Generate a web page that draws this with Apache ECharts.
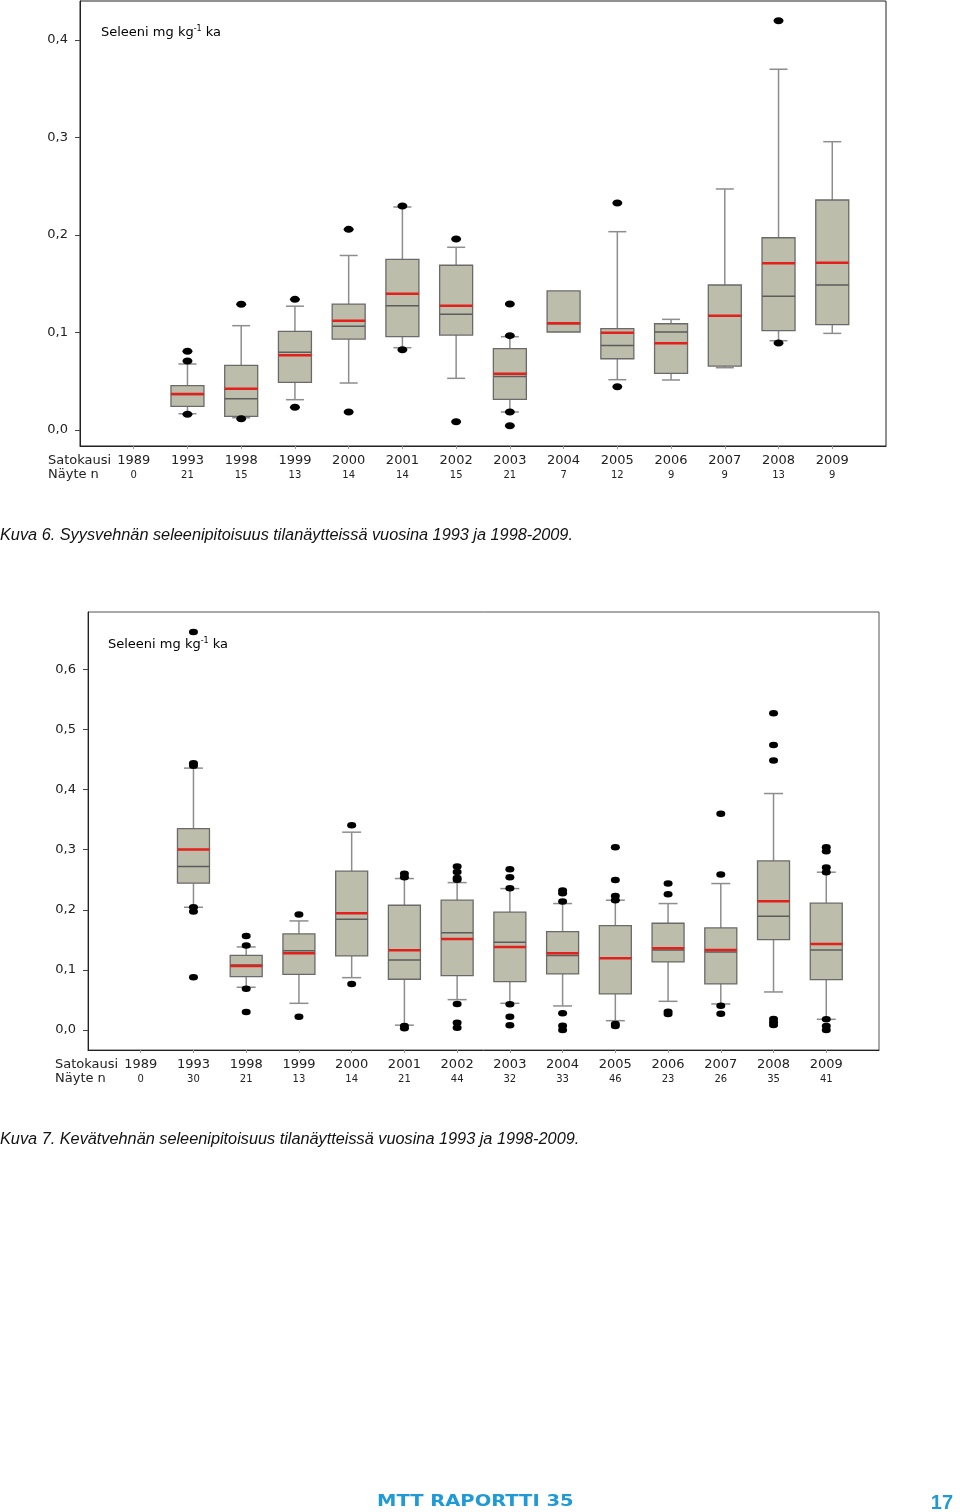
<!DOCTYPE html>
<html><head><meta charset="utf-8">
<script src="https://cdn.jsdelivr.net/npm/echarts@6/dist/echarts.min.js"></script>
<style>html,body{margin:0;padding:0;background:#fff}#c{width:960px;height:1512px}</style>
</head><body><div id="c"></div>
<script>
// ---------- data ----------
const years = ['1989','1993','1998','1999','2000','2001','2002','2003','2004','2005','2006','2007','2008','2009'];
const n1 = [0,21,15,13,14,14,15,21,7,12,9,9,13,9];
const n2 = [0,30,21,13,14,21,44,32,33,46,23,26,35,41];
const yTicks1 = [0, 0.1, 0.2, 0.3, 0.4];
const yTicks2 = [0, 0.1, 0.2, 0.3, 0.4, 0.5, 0.6];

// Kuva 6: [low whisker, Q1, median, Q3, high whisker]
const box1 = [
  null,
  [0.0167, 0.0243, 0.0365, 0.0455, 0.0677],
  [0.0126, 0.0140, 0.0321, 0.0663, 0.1070],
  [0.0311, 0.0489, 0.0797, 0.1012, 0.1270],
  [0.0482, 0.0933, 0.1063, 0.1292, 0.1790],
  [0.0844, 0.0957, 0.1275, 0.1750, 0.2287],
  [0.0530, 0.0974, 0.1186, 0.1690, 0.1874],
  [0.0185, 0.0315, 0.0550, 0.0834, 0.0957],
  [0.1005, 0.1005, 0.1090, 0.1426, 0.1426],
  [0.0516, 0.0731, 0.0868, 0.1039, 0.2034],
  [0.0513, 0.0581, 0.1005, 0.1090, 0.1135],
  [0.0639, 0.0656, 0.1170, 0.1487, 0.2472],
  [0.0916, 0.1019, 0.1371, 0.1972, 0.3700],
  [0.0991, 0.1080, 0.1487, 0.2359, 0.2957]
];
const mean1 = [null,0.0370,0.0424,0.0766,0.1121,0.1398,0.1275,0.0578,0.1094,0.0998,0.0889,0.1172,0.1710,0.1716];
const out1 = [
  [1,0.0807],[1,0.0708],[1,0.0161],
  [2,0.1290],[2,0.0116],
  [3,0.1340],[3,0.0233],
  [4,0.2058],[4,0.0185],
  [5,0.2297],[5,0.0824],
  [6,0.1959],[6,0.0085],
  [7,0.1292],[7,0.0968],[7,0.0185],[7,0.0044],
  [9,0.2328],[9,0.0444],
  [12,0.4198],[12,0.0892]
];

// Kuva 7
const box2 = [
  null,
  [0.2043, 0.2443, 0.2720, 0.3352, 0.4358],
  [0.0711, 0.0888, 0.1082, 0.1243, 0.1382],
  [0.0444, 0.0927, 0.1320, 0.1599, 0.1815],
  [0.0871, 0.1232, 0.1843, 0.2643, 0.3292],
  [0.0080, 0.0844, 0.1166, 0.2076, 0.2520],
  [0.0505, 0.0905, 0.1620, 0.2160, 0.2453],
  [0.0444, 0.0805, 0.1460, 0.1960, 0.2353],
  [0.0400, 0.0933, 0.1238, 0.1637, 0.2104],
  [0.0155, 0.0600, 0.1194, 0.1737, 0.2160],
  [0.0477, 0.1132, 0.1332, 0.1776, 0.2104],
  [0.0433, 0.0766, 0.1299, 0.1699, 0.2437],
  [0.0633, 0.1504, 0.1893, 0.2814, 0.3935],
  [0.0178, 0.0838, 0.1332, 0.2110, 0.2626]
];
const mean2 = [null,0.3003,0.1066,0.1277,0.1943,0.1327,0.1515,0.1382,0.1277,0.1194,0.1360,0.1332,0.2143,0.1432];
const out2 = [
  [1,0.6623],[1,0.4441],[1,0.4396],[1,0.2043],[1,0.1970],[1,0.0877],
  [2,0.1565],[2,0.1404],[2,0.0688],[2,0.0300],
  [3,0.1920],[3,0.0222],
  [4,0.3409],[4,0.0766],
  [5,0.2598],[5,0.2543],[5,0.0067],[5,0.0028],
  [6,0.2720],[6,0.2630],[6,0.2530],[6,0.2500],[6,0.0433],[6,0.0122],[6,0.0039],
  [7,0.2676],[7,0.2543],[7,0.2360],[7,0.0428],[7,0.0222],[7,0.0078],
  [8,0.2320],[8,0.2276],[8,0.2137],[8,0.0278],[8,0.0072],[8,0.0000],
  [9,0.3042],[9,0.2498],[9,0.2231],[9,0.2160],[9,0.0100],[9,0.0067],
  [10,0.2437],[10,0.2260],[10,0.0305],[10,0.0266],
  [11,0.3597],[11,0.2587],[11,0.0405],[11,0.0272],
  [12,0.5273],[12,0.4741],[12,0.4485],[12,0.0183],[12,0.0128],[12,0.0083],
  [13,0.3042],[13,0.2976],[13,0.2703],[13,0.2626],[13,0.0178],[13,0.0067],[13,0.0000]
];

// ---------- chart ----------
const FONT = 'DejaVu Sans, Verdana, sans-serif';
const xIdx = years.map((_, i) => i);

function boxData(box, mean) {
  const res = [];
  box.forEach((b, i) => { if (b) res.push([i, b[0], b[1], b[2], b[3], b[4], mean[i]]); });
  return res;
}

function boxRender(boxW, capW) {
  return function (params, api) {
    const i = api.value(0);
    const low = api.value(1), q1 = api.value(2), med = api.value(3), q3 = api.value(4), high = api.value(5), mean = api.value(6);
    const pLow = api.coord([i, low]), pQ1 = api.coord([i, q1]), pMed = api.coord([i, med]);
    const pQ3 = api.coord([i, q3]), pHigh = api.coord([i, high]), pMean = api.coord([i, mean]);
    const x = pQ1[0];
    const wS = { stroke: '#8d8d8d', lineWidth: 1.5 };
    const ch = [];
    if (high > q3) {
      ch.push({ type: 'line', shape: { x1: x, y1: pQ3[1], x2: x, y2: pHigh[1] }, style: wS });
      ch.push({ type: 'line', shape: { x1: x - capW / 2, y1: pHigh[1], x2: x + capW / 2, y2: pHigh[1] }, style: wS });
    }
    if (low < q1) {
      ch.push({ type: 'line', shape: { x1: x, y1: pQ1[1], x2: x, y2: pLow[1] }, style: wS });
      ch.push({ type: 'line', shape: { x1: x - capW / 2, y1: pLow[1], x2: x + capW / 2, y2: pLow[1] }, style: wS });
    }
    ch.push({ type: 'rect', shape: { x: x - boxW / 2, y: pQ3[1], width: boxW, height: pQ1[1] - pQ3[1] },
      style: { fill: '#bcbdab', stroke: '#6a6a68', lineWidth: 1.3 } });
    ch.push({ type: 'line', shape: { x1: x - boxW / 2, y1: pMed[1], x2: x + boxW / 2, y2: pMed[1] },
      style: { stroke: '#5c5c5a', lineWidth: 1.5 } });
    ch.push({ type: 'line', shape: { x1: x - boxW / 2, y1: pMean[1], x2: x + boxW / 2, y2: pMean[1] },
      style: { stroke: '#e3201b', lineWidth: 2.5 } });
    return { type: 'group', children: ch };
  };
}

function xAxisCfg(g, nArr) {
  return {
    type: 'value', gridIndex: g, min: -1, max: 14,
    splitLine: { show: false },
    axisLine: { show: true, onZero: false, lineStyle: { color: '#222', width: 1 } },
    axisTick: { show: true, customValues: xIdx, length: 3, lineStyle: { color: '#999' } },
    axisLabel: {
      customValues: xIdx, margin: 8,
      formatter: v => '{y|' + years[v] + '}\n{n|' + nArr[v] + '}',
      rich: {
        y: { fontFamily: FONT, fontSize: 13, lineHeight: 14, color: '#222' },
        n: { fontFamily: FONT, fontSize: 10, lineHeight: 14, color: '#222' }
      }
    }
  };
}
function yAxisCfg(g, min, max, ticks) {
  return {
    type: 'value', gridIndex: g, min: min, max: max,
    splitLine: { show: false },
    axisLine: { show: true, onZero: false, lineStyle: { color: '#222', width: 1 } },
    axisTick: { show: true, customValues: ticks, length: 5, lineStyle: { color: '#444' } },
    axisLabel: {
      customValues: ticks, margin: 12, fontFamily: FONT, fontSize: 13, color: '#222',
      formatter: v => v.toFixed(1).replace('.', ',')
    }
  };
}

const titleRich = {
  a: { fontFamily: FONT, fontSize: 13, lineHeight: 16, color: '#111' },
  s: { fontFamily: FONT, fontSize: 8, lineHeight: 16, color: '#111', verticalAlign: 'top', padding: [0, 0, 7, 0] }
};

const chart = echarts.init(document.getElementById('c'), null, { renderer: 'canvas' });
chart.setOption({
  animation: false,
  backgroundColor: '#fff',
  grid: [
    { left: 80, top: 1, width: 806, height: 445, show: true, borderColor: '#222', borderWidth: 1, containLabel: false },
    { left: 88, top: 612, width: 791, height: 438, show: true, borderColor: '#555', borderWidth: 1, containLabel: false }
  ],
  xAxis: [xAxisCfg(0, n1), xAxisCfg(1, n2)],
  yAxis: [yAxisCfg(0, -0.0164, 0.44, yTicks1), yAxisCfg(1, -0.0333, 0.6956, yTicks2)],
  series: [
    { type: 'custom', xAxisIndex: 0, yAxisIndex: 0, renderItem: boxRender(33, 18), data: boxData(box1, mean1),
      encode: { x: 0, y: [1, 5] }, clip: false, z: 2 },
    { type: 'scatter', xAxisIndex: 0, yAxisIndex: 0, data: out1, symbol: 'circle', symbolSize: [10, 7],
      itemStyle: { color: '#000', opacity: 1 }, z: 3 },
    { type: 'custom', xAxisIndex: 1, yAxisIndex: 1, renderItem: boxRender(32, 19), data: boxData(box2, mean2),
      encode: { x: 0, y: [1, 5] }, clip: false, z: 2 },
    { type: 'scatter', xAxisIndex: 1, yAxisIndex: 1, data: out2, symbol: 'circle', symbolSize: [9, 6.5],
      itemStyle: { color: '#000', opacity: 1 }, z: 3 }
  ],
  graphic: [
    { type: 'text', x: 101, y: 33, style: { text: '{a|Seleeni mg kg}{s|-1}{a| ka}', rich: titleRich, verticalAlign: 'middle' } },
    { type: 'text', x: 108, y: 645, style: { text: '{a|Seleeni mg kg}{s|-1}{a| ka}', rich: titleRich, verticalAlign: 'middle' } },
    { type: 'text', x: 48, y: 461, style: { text: 'Satokausi', fontFamily: FONT, fontSize: 13, fill: '#222', verticalAlign: 'middle' } },
    { type: 'text', x: 48, y: 475, style: { text: 'Näyte n', fontFamily: FONT, fontSize: 13, fill: '#222', verticalAlign: 'middle' } },
    { type: 'text', x: 55, y: 1065, style: { text: 'Satokausi', fontFamily: FONT, fontSize: 13, fill: '#222', verticalAlign: 'middle' } },
    { type: 'text', x: 55, y: 1079, style: { text: 'Näyte n', fontFamily: FONT, fontSize: 13, fill: '#222', verticalAlign: 'middle' } },
    { type: 'text', x: 0, y: 535, style: { text: 'Kuva 6. Syysvehnän seleenipitoisuus tilanäytteissä vuosina 1993 ja 1998-2009.',
      fontFamily: 'Liberation Sans, Arial, sans-serif', fontStyle: 'italic', fontSize: 16.3, fill: '#111', verticalAlign: 'middle' } },
    { type: 'text', x: 0, y: 1139, style: { text: 'Kuva 7. Kevätvehnän seleenipitoisuus tilanäytteissä vuosina 1993 ja 1998-2009.',
      fontFamily: 'Liberation Sans, Arial, sans-serif', fontStyle: 'italic', fontSize: 16.3, fill: '#111', verticalAlign: 'middle' } },
    { type: 'text', x: 377, y: 1502, scaleX: 1.3, style: { text: 'MTT RAPORTTI 35', fontFamily: 'DejaVu Sans, sans-serif', fontWeight: 'bold',
      fontSize: 15, fill: '#1f9ad6', verticalAlign: 'middle' } },
    { type: 'text', x: 953, y: 1503, style: { text: '17', fontFamily: 'Liberation Sans, Arial, sans-serif', fontSize: 20, fontWeight: 'bold',
      fill: '#1f9ad6', align: 'right', verticalAlign: 'middle' } }
  ]
});
</script></body></html>
